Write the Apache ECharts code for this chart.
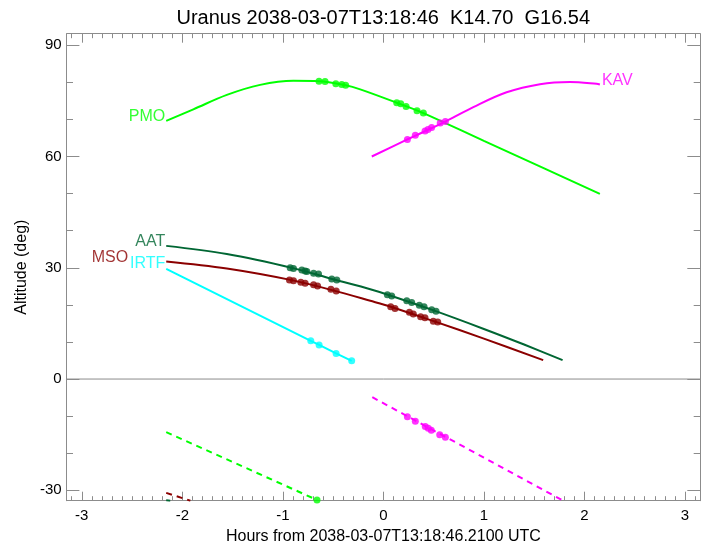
<!DOCTYPE html>
<html><head><meta charset="utf-8">
<script src="https://cdn.jsdelivr.net/npm/echarts@6/dist/echarts.min.js"></script>
<style>html,body{margin:0;padding:0;background:#fff}#c{width:708px;height:546px}</style>
</head><body><div id="c"></div>
<script>
// ---- data ----
const titleText = 'Uranus 2038-03-07T13:18:46  K14.70  G16.54';
const xName = 'Hours from 2038-03-07T13:18:46.2100 UTC';
const yName = 'Altitude (deg)';
const xTickLabels = [-3, -2, -1, 0, 1, 2, 3];
const yTickLabels = [-30, 0, 30, 60, 90];
const X_MIN = -3.15, X_MAX = 3.15, Y_MIN = -32.8, Y_MAX = 93.1;

// PMO (green)
const pmoX = [-2.16, -1.89, -1.557, -1.226, -0.895, -0.64, -0.375, -0.23, 0.133, 0.398, 1.0, 1.6, 2.154];
const pmoY = [69.6, 72.7, 76.6, 79.3, 80.4, 80.3, 79.2, 78.1, 74.5, 71.7, 64.2, 56.8, 49.9];
const pmoDotX = [-0.64, -0.58, -0.473, -0.414, -0.375, 0.133, 0.173, 0.226, 0.335, 0.398];
const pmoDotY = [80.3, 80.2, 79.6, 79.4, 79.2, 74.5, 74.2, 73.5, 72.3, 71.7];
const pmoLowX = [-2.16, -0.66];
const pmoLowY = [-14.3, -32.6];
const pmoLowDotX = [-0.66];
const pmoLowDotY = [-32.6];

// KAV (magenta)
const kavX = [-0.115, 0.239, 0.617, 0.895, 1.226, 1.558, 1.856, 2.121, 2.154];
const kavY = [60.0, 64.6, 69.4, 73.3, 77.3, 79.5, 80.1, 79.6, 79.4];
const kavDotX = [0.239, 0.318, 0.415, 0.444, 0.48, 0.566, 0.617];
const kavDotY = [64.6, 65.7, 66.9, 67.3, 67.8, 69.0, 69.4];
const kavLowX = [-0.11, 1.79];
const kavLowY = [-4.9, -32.8];
const kavLowDotX = [0.239, 0.318, 0.417, 0.447, 0.477, 0.561, 0.617];
const kavLowDotY = [-10.2, -11.4, -12.8, -13.3, -13.8, -15.0, -15.7];

// AAT (dark green)
const aatX = [-2.16, -1.557, -0.9, -0.5, -0.13, 0.06, 0.5, 1.0, 1.4, 1.783];
const aatY = [35.9, 33.7, 29.9, 26.9, 24.2, 22.6, 18.5, 13.5, 9.3, 5.1];
const aatDotX = [-0.927, -0.894, -0.811, -0.778, -0.761, -0.694, -0.645, -0.513, -0.463, 0.04, 0.083, 0.233, 0.282, 0.358, 0.405, 0.481, 0.524];
const aatDotY = [30.0, 29.8, 29.4, 29.1, 29.0, 28.5, 28.3, 27.0, 26.7, 22.7, 22.4, 21.1, 20.6, 19.9, 19.5, 18.7, 18.3];
const aatLowX = [-2.16, -2.12];
const aatLowY = [-32.7, -32.8];

// MSO (dark red)
const msoX = [-2.16, -1.557, -0.9, -0.5, -0.13, 0.073, 0.5, 1.0, 1.59];
const msoY = [31.7, 29.8, 26.6, 23.9, 21.1, 19.5, 15.6, 10.9, 5.1];
const msoDotX = [-0.934, -0.894, -0.821, -0.778, -0.694, -0.654, -0.522, -0.469, 0.073, 0.116, 0.259, 0.298, 0.371, 0.414, 0.497, 0.541];
const msoDotY = [26.7, 26.5, 26.1, 25.8, 25.4, 25.1, 24.2, 23.7, 19.5, 19.0, 18.0, 17.5, 16.8, 16.5, 15.6, 15.4];
const msoLowX = [-2.16, -1.92];
const msoLowY = [-30.7, -32.8];

// IRTF (cyan)
const irtfX = [-2.16, -0.722, -0.639, -0.47, -0.315];
const irtfY = [29.7, 10.3, 9.2, 6.9, 4.9];
const irtfDotX = [-0.722, -0.639, -0.47, -0.315];
const irtfDotY = [10.3, 9.2, 6.9, 4.9];

const C = {PMO:'#00ff00', KAV:'#ff00ff', AAT:'#006633', MSO:'#8b0000', IRTF:'#00ffff'};
const FONT = '"Liberation Sans", Arial, Helvetica, sans-serif';
const AX = '#8c8c8c';

// minor ticks
const xMinor = []; for (let i = -31; i <= 31; i++) if (i % 10 !== 0) xMinor.push(i / 10);
const yMinor = []; for (let v = -30; v <= 90; v += 10) if (v % 30 !== 0) yMinor.push(v);

const zip = (a, b) => a.map((v, i) => [v, b[i]]);

function axis(kind, pos, ticks, len, opts) {
  const a = {
    type: 'value', position: pos,
    min: kind === 'x' ? X_MIN : Y_MIN, max: kind === 'x' ? X_MAX : Y_MAX,
    axisLine: {show: !!opts.line, onZero: false, lineStyle: {color: AX, width: 1}},
    axisTick: {show: true, inside: true, length: len, customValues: ticks, lineStyle: {color: AX, width: 1}},
    axisLabel: {show: false},
    splitLine: {show: false}, minorTick: {show: false}, minorSplitLine: {show: false}
  };
  if (opts.labels) {
    a.axisLabel = {show: true, customValues: opts.labels, color: '#000', fontSize: 15, fontFamily: FONT, margin: opts.margin};
  }
  if (opts.name) {
    a.name = opts.name; a.nameLocation = 'middle'; a.nameGap = opts.nameGap;
    a.nameTextStyle = {color: '#000', fontSize: 16, fontFamily: FONT};
  }
  return a;
}

const xAxes = [
  axis('x', 'bottom', xTickLabels, 9, {line: true, labels: xTickLabels, margin: 8, name: xName, nameGap: 25}),
  axis('x', 'bottom', xMinor, 4.5, {}),
  axis('x', 'top', xTickLabels, 9, {line: true}),
  axis('x', 'top', xMinor, 4.5, {})
];
const yAxes = [
  axis('y', 'left', yTickLabels, 12.7, {line: true, labels: yTickLabels, margin: 5, name: yName, nameGap: 36}),
  axis('y', 'left', yMinor, 6.3, {}),
  axis('y', 'right', yTickLabels, 12.7, {line: true}),
  axis('y', 'right', yMinor, 6.3, {})
];

function lineS(name, xs, ys, color, dashed, smooth) {
  return {type: 'line', name, data: zip(xs, ys), xAxisIndex: 0, yAxisIndex: 0,
    showSymbol: false, smooth: smooth ? 0.35 : false, clip: true, silent: true,
    lineStyle: {color, width: 2, type: dashed ? [6, 5] : 'solid'}, z: 2};
}
function dotS(name, xs, ys, color) {
  return {type: 'scatter', name, data: zip(xs, ys), xAxisIndex: 0, yAxisIndex: 0,
    symbol: 'circle', symbolSize: 7, itemStyle: {color, borderWidth: 0}, clip: true, silent: true, z: 3};
}
function labelS(text, x, y, color, align, off) {
  return {type: 'scatter', data: [[x, y]], xAxisIndex: 0, yAxisIndex: 0, symbolSize: 1,
    itemStyle: {color: 'rgba(0,0,0,0)'}, silent: true, z: 4,
    label: {show: true, formatter: text, position: 'inside', align, verticalAlign: 'bottom',
      offset: off, color, fontSize: 16, fontFamily: FONT}};
}

const series = [
  Object.assign(lineS('zero', [X_MIN, X_MAX], [0, 0], AX, false, false), {lineStyle: {color: AX, width: 1}, z: 1}),
  lineS('PMO', pmoX, pmoY, C.PMO, false, true),
  dotS('PMOd', pmoDotX, pmoDotY, C.PMO),
  lineS('PMOlow', pmoLowX, pmoLowY, C.PMO, true, false),
  dotS('PMOlowd', pmoLowDotX, pmoLowDotY, C.PMO),
  lineS('KAV', kavX, kavY, C.KAV, false, true),
  dotS('KAVd', kavDotX, kavDotY, C.KAV),
  lineS('KAVlow', kavLowX, kavLowY, C.KAV, true, false),
  dotS('KAVlowd', kavLowDotX, kavLowDotY, C.KAV),
  lineS('AAT', aatX, aatY, C.AAT, false, true),
  dotS('AATd', aatDotX, aatDotY, C.AAT),
  lineS('AATlow', aatLowX, aatLowY, C.AAT, true, false),
  lineS('MSO', msoX, msoY, C.MSO, false, true),
  dotS('MSOd', msoDotX, msoDotY, C.MSO),
  lineS('MSOlow', msoLowX, msoLowY, C.MSO, true, false),
  lineS('IRTF', irtfX, irtfY, C.IRTF, false, false),
  dotS('IRTFd', irtfDotX, irtfDotY, C.IRTF),
  labelS('PMO', pmoX[0], pmoY[0], C.PMO, 'right', [-1, 4]),
  labelS('AAT', aatX[0], aatY[0], C.AAT, 'right', [-1, 4]),
  labelS('IRTF', irtfX[0], irtfY[0], C.IRTF, 'right', [-1, 3]),
  labelS('MSO', msoX[0], msoY[0], C.MSO, 'right', [-38, 4]),
  labelS('KAV', kavX[kavX.length - 1], kavY[kavY.length - 1], C.KAV, 'left', [2, 4])
];

const chart = echarts.init(document.getElementById('c'), null, {renderer: 'canvas'});
chart.setOption({
  animation: false,
  backgroundColor: '#fff',
  grid: {left: 66.7, right: 8, top: 33.7, bottom: 45.3, containLabel: false, outerBoundsMode: 'none'},
  xAxis: xAxes,
  yAxis: yAxes,
  graphic: [{type: 'text', x: 383.3, y: 8, silent: true,
    style: {text: titleText, fill: '#000', font: '20px ' + FONT, align: 'center', verticalAlign: 'top'}}],
  series
});
</script></body></html>
